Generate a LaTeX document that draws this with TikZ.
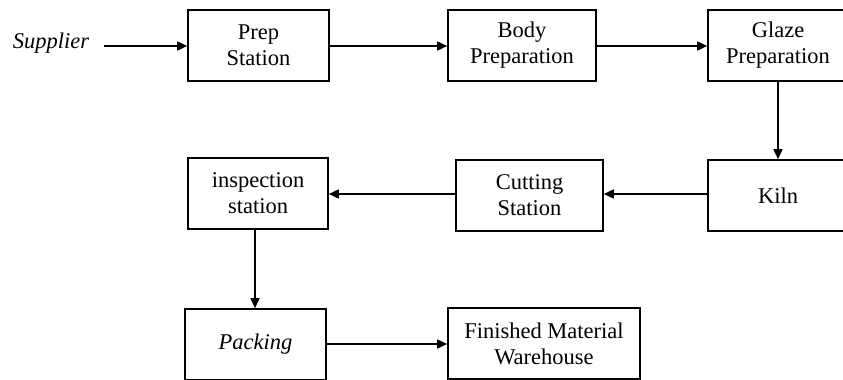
\documentclass[tikz,border=0pt]{standalone}
\usepackage{fontspec}
\setmainfont{Liberation Serif}
\usetikzlibrary{arrows.meta}
\begin{document}
\begin{tikzpicture}[x=1pt,y=-1pt,
  box/.style={draw=black,line width=1.6pt,rectangle,minimum height=71pt,inner sep=0pt,align=center,font=\fontsize{22.5}{26}\selectfont},
  arr/.style={line width=1.6pt,-{Triangle[length=10pt,width=9pt]}}]
\useasboundingbox (0,0) rectangle (843,380);
\node[font=\fontsize{22.5}{26}\selectfont\itshape] (sup) at (51,43) {Supplier};
\coordinate (s0) at (104,46);
\node[box,minimum width=141pt] (prep) at (258.5,45.5) {Prep\\Station};
\node[box,minimum width=148pt] (body) at (522,45.5) {Body\\Preparation};
\node[box,minimum width=140pt] (glaze) at (778,45.5) {Glaze\\Preparation};
\node[box,minimum width=140pt] (kiln) at (778,195.5) {Kiln};
\node[box,minimum width=147pt] (cut) at (529.5,195.5) {Cutting\\Station};
\node[box,minimum width=140pt] (insp) at (258,193.5) {inspection\\station};
\node[box,minimum width=141pt] (pack) at (255.5,344.5) {\itshape Packing};
\node[box,minimum width=192pt] (fin) at (544,343.5) {Finished Material\\Warehouse};
\draw[arr] (s0) -- (s0 -| prep.west);
\draw[arr] (prep.east |- s0) -- (body.west |- s0);
\draw[arr] (body.east |- s0) -- (glaze.west |- s0);
\draw[arr] (glaze.south) -- (kiln.north);
\draw[arr] (kiln.west |- 0,194) -- (cut.east |- 0,194);
\draw[arr] (cut.west |- 0,194) -- (insp.east |- 0,194);
\draw[arr] (insp.south -| 255,0) -- (pack.north -| 255,0);
\draw[arr] (pack.east |- 0,344) -- (fin.west |- 0,344);
\end{tikzpicture}
\end{document}
